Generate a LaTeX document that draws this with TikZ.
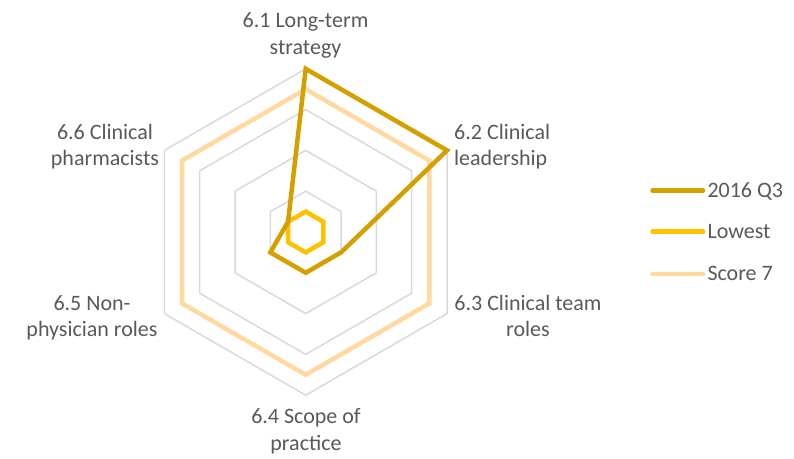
\documentclass[tikz,border=0pt]{standalone}
\usepackage{fontspec}
\setmainfont{Carlito}
\usetikzlibrary{positioning}
\definecolor{gridgray}{HTML}{D9D9D9}
\definecolor{textgray}{HTML}{595959}
\definecolor{qthree}{HTML}{D4A000}
\definecolor{lowest}{HTML}{FFC000}
\definecolor{scoreseven}{HTML}{FFD9A0}
\def\hexring[#1](#2){\draw[#1] (90:#2) -- (30:#2) -- (-30:#2) -- (-90:#2) -- (210:#2) -- (150:#2) -- cycle;}
\tikzset{
	lbl/.style={font=\fontsize{22}{26.5}\selectfont, text=textgray, align=center, inner sep=0pt},
	legline/.style={line width=4.5pt, line cap=round}
}

\begin{document}
\begin{tikzpicture}[x=1pt, y=1pt]
		%%%%% START %%%%%
		\useasboundingbox (0, 0) rectangle (794, 458);
		
		\begin{scope}[shift={(305.7, 226)}]
		\hexring[gridgray, line width=1.5pt](40.8)
		\hexring[gridgray, line width=1.5pt](81.6)
		\hexring[gridgray, line width=1.5pt](122.4)
		\hexring[gridgray, line width=1.5pt](163.2)
		
		\hexring[scoreseven, line width=4.5pt](142.8)
		\hexring[lowest, line width=4.5pt](20.4)
		\draw[qthree, line width=4.5pt] (90:163.2) -- (30:163.2) -- (-30:40.8) -- (-90:40.8) -- (210:40.8) -- (150:20.4) -- cycle;
		\end{scope}
		
		% base anchor sits on the last line
		\node[lbl, anchor=base] (strategy) at (305.5, 403.7) {6.1 Long-term\\strategy};
		\node[lbl, anchor=base west, align=left] (leadership) at (454, 292) {6.2 Clinical\\leadership};
		\node[lbl, anchor=base] (teamroles) at (528, 121.5) {6.3 Clinical team\\roles};
		\node[lbl, anchor=base] (scope) at (306, 8) {6.4 Scope of\\practice};
		\node[lbl, anchor=base] (nonphys) at (92, 121.3) {6.5 Non-\\physician roles};
		\node[lbl, anchor=base] (pharm) at (105, 292.3) {6.6 Clinical\\pharmacists};
		
		\coordinate (qa) at (652.5, 267.3);
		\coordinate (qb) at (703, 267.3);
		\coordinate (la) at (652.5, 226.3);
		\coordinate (lb) at (703, 226.3);
		\coordinate (sa) at (652.5, 184);
		\coordinate (sb) at (703, 184);
		\draw[legline, qthree] (qa) -- (qb);
		\draw[legline, lowest] (la) -- (lb);
		\draw[legline, scoreseven] (sa) -- (sb);
		\node[lbl, anchor=base west] (qtext) at (707.3, 260.7) {2016 Q3};
		\node[lbl, anchor=base west] (ltext) at (707.3, 219.7) {Lowest};
		\node[lbl, anchor=base west] (stext) at (707.3, 178) {Score 7};
		
		%%%%% END %%%%%
	\end{tikzpicture}
\end{document}
